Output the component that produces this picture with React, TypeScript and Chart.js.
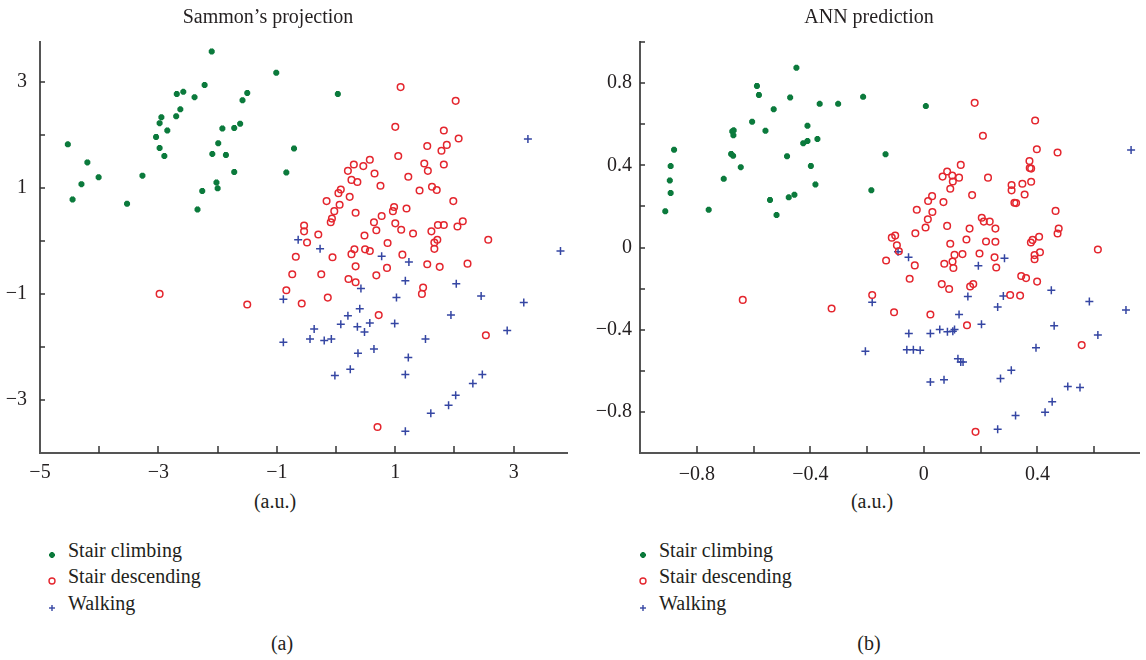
import React, { useEffect, useRef } from "react";
import { Chart, registerables } from "chart.js";

Chart.register(...registerables);

const FONT = '"Liberation Serif", "Times New Roman", serif';
const GREEN = "#0b7a3c";
const RED = "#e4262e";
const BLUE = "#3546a3";
const TEXT = "#231f20";

// ---------- (a) Sammon's projection ----------
const sammonClimbing: [number, number][] = [
  [-4.53, 1.82], [-4.45, 0.78], [-4.30, 1.07], [-4.20, 1.48], [-4.01, 1.20], [-3.53, 0.70],
  [-3.27, 1.23], [-3.04, 1.96], [-2.98, 1.75], [-2.90, 1.60], [-2.98, 2.22], [-2.95, 2.33],
  [-2.85, 2.08], [-2.69, 2.77], [-2.58, 2.81], [-2.63, 2.48], [-2.70, 2.35], [-2.39, 2.71],
  [-2.22, 2.94], [-2.10, 3.57], [-2.34, 0.59], [-2.26, 0.94], [-2.09, 1.64], [-1.99, 1.84],
  [-2.02, 1.10], [-2.00, 0.99], [-1.92, 2.12], [-1.86, 1.62], [-1.72, 2.13], [-1.62, 2.21],
  [-1.58, 2.65], [-1.50, 2.79], [-1.72, 1.30], [-1.01, 3.17], [-0.71, 1.74], [-0.84, 1.29],
  [0.03, 2.77],
];
const sammonDescending: [number, number][] = [
  [1.09, 2.90], [2.02, 2.64], [1.00, 2.15], [1.82, 2.08], [2.07, 1.93], [1.54, 1.79],
  [1.87, 1.81], [1.78, 1.70], [1.05, 1.60], [1.49, 1.46], [1.82, 1.44], [1.55, 1.32],
  [0.57, 1.53], [0.30, 1.44], [0.46, 1.41], [0.20, 1.32], [0.65, 1.27], [1.22, 1.21],
  [0.26, 1.15], [0.36, 1.11], [0.75, 1.04], [1.62, 1.02], [1.70, 0.96], [1.41, 0.95],
  [0.08, 0.97], [0.04, 0.90], [0.23, 0.83], [-0.16, 0.75], [0.06, 0.68], [1.98, 0.75],
  [0.98, 0.64], [0.96, 0.56], [1.19, 0.61], [-0.03, 0.56], [0.33, 0.53], [0.77, 0.47],
  [-0.07, 0.42], [-0.09, 0.35], [0.64, 0.35], [1.00, 0.33], [1.72, 0.30], [1.82, 0.30],
  [2.14, 0.37], [2.05, 0.27], [-0.54, 0.29], [-0.54, 0.18], [-0.30, 0.12], [0.48, 0.10],
  [0.68, 0.20], [1.10, 0.21], [1.30, 0.14], [1.61, 0.18], [2.57, 0.02], [-0.49, -0.03],
  [0.87, -0.04], [1.71, 0.02], [1.66, -0.03], [1.66, -0.15], [-0.68, -0.30], [-0.06, -0.31],
  [0.26, -0.25], [0.31, -0.16], [0.49, -0.16], [0.57, -0.19], [1.12, -0.26], [1.54, -0.44],
  [1.75, -0.49], [2.22, -0.43], [0.33, -0.48], [0.86, -0.51], [-0.74, -0.63], [-0.25, -0.63],
  [0.21, -0.72], [0.33, -0.78], [0.68, -0.65], [-0.84, -0.93], [-0.58, -1.18], [-0.14, -1.07],
  [1.47, -0.88], [1.45, -1.00], [0.72, -1.40], [2.53, -1.78], [0.70, -3.51], [-2.98, -1.00],
  [-1.50, -1.20],
];
const sammonWalking: [number, number][] = [
  [3.24, 1.92], [-0.64, 0.02], [-0.27, -0.15], [0.77, -0.29], [1.23, -0.40], [3.79, -0.19],
  [-0.89, -1.10], [-0.89, -1.91], [1.17, -0.75], [0.42, -0.90], [2.03, -0.81], [1.02, -1.07],
  [2.45, -1.04], [3.17, -1.16], [0.40, -1.28], [0.20, -1.41], [1.94, -1.40], [0.08, -1.57],
  [0.36, -1.62], [0.57, -1.55], [0.99, -1.56], [0.48, -1.72], [-0.37, -1.66], [-0.44, -1.85],
  [-0.20, -1.88], [-0.08, -1.85], [1.51, -1.85], [2.89, -1.69], [0.37, -2.12], [0.64, -2.04],
  [1.22, -2.20], [0.24, -2.42], [-0.02, -2.54], [1.17, -2.52], [2.47, -2.52], [2.31, -2.69],
  [2.02, -2.91], [1.90, -3.10], [1.60, -3.25], [1.17, -3.59],
];

// ---------- (b) ANN prediction ----------
const annClimbing: [number, number][] = [
  [-0.911, 0.176], [-0.880, 0.476], [-0.892, 0.396], [-0.895, 0.326], [-0.892, 0.265],
  [-0.758, 0.184], [-0.705, 0.334], [-0.670, 0.570], [-0.675, 0.565], [-0.671, 0.546],
  [-0.679, 0.455], [-0.672, 0.446], [-0.645, 0.391], [-0.588, 0.786], [-0.581, 0.742],
  [-0.605, 0.612], [-0.558, 0.568], [-0.529, 0.673], [-0.542, 0.231], [-0.519, 0.158],
  [-0.482, 0.444], [-0.471, 0.730], [-0.449, 0.875], [-0.476, 0.244], [-0.456, 0.257],
  [-0.425, 0.507], [-0.410, 0.518], [-0.410, 0.592], [-0.398, 0.397], [-0.375, 0.528],
  [-0.382, 0.307], [-0.367, 0.699], [-0.302, 0.699], [-0.214, 0.733], [-0.185, 0.279],
  [0.007, 0.688], [-0.135, 0.454],
];
const annDescending: [number, number][] = [
  [0.179, 0.704], [0.392, 0.618], [0.208, 0.544], [0.398, 0.478], [0.471, 0.462], [0.372, 0.421],
  [0.373, 0.387], [0.378, 0.384], [0.130, 0.402], [0.082, 0.370], [0.066, 0.345], [0.100, 0.350],
  [0.124, 0.340], [0.102, 0.321], [0.226, 0.340], [0.378, 0.320], [0.347, 0.310], [0.309, 0.304],
  [0.309, 0.278], [0.355, 0.258], [0.093, 0.286], [0.170, 0.255], [0.029, 0.250], [0.015, 0.226],
  [0.069, 0.221], [0.319, 0.218], [0.325, 0.216], [-0.025, 0.184], [0.030, 0.173], [0.464, 0.178],
  [0.014, 0.137], [0.204, 0.145], [0.211, 0.126], [0.232, 0.126], [0.082, 0.105], [0.006, 0.097],
  [0.161, 0.092], [0.252, 0.092], [0.475, 0.092], [0.471, 0.068], [-0.030, 0.069], [-0.101, 0.058],
  [-0.113, 0.048], [-0.095, 0.011], [-0.088, -0.018], [0.150, 0.039], [0.219, 0.029], [0.252, 0.028],
  [0.093, 0.018], [0.406, 0.052], [0.383, 0.037], [0.377, 0.024], [0.613, -0.010], [0.409, -0.023],
  [0.390, -0.037], [0.390, -0.057], [0.108, -0.036], [0.136, -0.032], [0.196, -0.029], [0.249, -0.048],
  [0.101, -0.068], [-0.133, -0.063], [-0.032, -0.087], [0.072, -0.079], [0.104, -0.100], [0.255, -0.097],
  [-0.050, -0.152], [0.063, -0.178], [0.089, -0.202], [0.163, -0.190], [0.174, -0.178], [0.343, -0.139],
  [0.360, -0.149], [0.399, -0.166], [0.304, -0.231], [0.339, -0.234], [-0.182, -0.231], [-0.105, -0.315],
  [0.023, -0.326], [0.152, -0.378], [0.556, -0.475], [0.182, -0.897], [-0.638, -0.255], [-0.325, -0.297],
];
const annWalking: [number, number][] = [
  [0.730, 0.475], [-0.091, -0.021], [-0.054, -0.048], [0.284, -0.052], [0.192, -0.089],
  [-0.182, -0.266], [-0.206, -0.505], [0.155, -0.239], [0.280, -0.236], [0.260, -0.289],
  [0.449, -0.208], [0.583, -0.263], [0.712, -0.304], [0.124, -0.326], [0.203, -0.373],
  [0.459, -0.381], [-0.053, -0.418], [0.023, -0.418], [0.056, -0.399], [0.083, -0.410],
  [0.102, -0.407], [0.108, -0.399], [0.613, -0.426], [0.395, -0.488], [-0.060, -0.497],
  [-0.037, -0.497], [-0.013, -0.500], [0.120, -0.541], [0.130, -0.557], [0.138, -0.557],
  [0.308, -0.597], [0.270, -0.638], [0.023, -0.654], [0.071, -0.643], [0.507, -0.676],
  [0.550, -0.681], [0.452, -0.751], [0.427, -0.802], [0.323, -0.817], [0.260, -0.885],
];

const seriesNames = ["Stair climbing", "Stair descending", "Walking"];

const fmt = (v: number) => {
  const r = Math.round(v * 100) / 100;
  return r < 0 ? "\u2212" + String(Math.abs(r)) : String(r);
};

const insideTicks = {
  id: "insideTicks",
  afterDatasetsDraw(chart: any) {
    const ctx = chart.ctx;
    const { left, bottom } = chart.chartArea;
    ctx.save();
    ctx.strokeStyle = "#333";
    ctx.lineWidth = 1.5;
    const xs = chart.scales.x;
    xs.ticks.forEach((t: any) => {
      const px = Math.round(xs.getPixelForValue(t.value));
      if (Math.abs(px - left) < 2) return;
      ctx.beginPath();
      ctx.moveTo(px, bottom);
      ctx.lineTo(px, bottom - 7);
      ctx.stroke();
    });
    const ys = chart.scales.y;
    ys.ticks.forEach((t: any) => {
      const py = Math.round(ys.getPixelForValue(t.value));
      if (Math.abs(py - bottom) < 2) return;
      ctx.beginPath();
      ctx.moveTo(left, py);
      ctx.lineTo(left + 5, py);
      ctx.stroke();
    });
    ctx.restore();
  },
};

type PanelProps = {
  left: number;
  width: number;
  height: number;
  yAxisWidth: number;
  padRight: number;
  climbing: [number, number][];
  descending: [number, number][];
  walking: [number, number][];
  xMin: number;
  xMax: number;
  xStep: number;
  yMin: number;
  yMax: number;
  yStep: number;
  xShow: (v: number) => boolean;
  yShow: (v: number) => boolean;
  xPad: number;
  yPad: number;
};

function Panel(p: PanelProps) {
  const ref = useRef<HTMLCanvasElement | null>(null);
  useEffect(() => {
    if (!ref.current) return;
    const toPts = (a: [number, number][]) => a.map(([x, y]) => ({ x, y }));
    const tickFont = { family: FONT, size: 20 };
    const chart = new Chart(ref.current, {
      type: "scatter",
      data: {
        datasets: [
          {
            label: seriesNames[0],
            data: toPts(p.climbing),
            pointStyle: "star",
            pointRadius: 3,
            borderWidth: 2.4,
            borderColor: GREEN,
            backgroundColor: GREEN,
          },
          {
            label: seriesNames[1],
            data: toPts(p.descending),
            pointStyle: "circle",
            pointRadius: 3.3,
            borderWidth: 1.5,
            borderColor: RED,
            backgroundColor: "rgba(255,255,255,0)",
          },
          {
            label: seriesNames[2],
            data: toPts(p.walking),
            pointStyle: "cross",
            pointRadius: 4,
            borderWidth: 1.5,
            borderColor: BLUE,
            backgroundColor: BLUE,
          },
        ],
      },
      options: {
        animation: false,
        responsive: false,
        events: [],
        layout: { padding: { top: 42, right: p.padRight, left: 0, bottom: 0 } },
        plugins: { legend: { display: false }, tooltip: { enabled: false }, title: { display: false } },
        scales: {
          x: {
            type: "linear",
            min: p.xMin,
            max: p.xMax,
            afterFit: (s: any) => {
              s.height = p.height - 453;
            },
            grid: { drawOnChartArea: false, drawTicks: false, color: "rgba(0,0,0,0)" },
            border: { display: true, color: "#555", width: 2 },
            ticks: {
              stepSize: p.xStep,
              includeBounds: false,
              autoSkip: false,
              maxRotation: 0,
              padding: p.xPad,
              font: tickFont,
              color: TEXT,
              callback: (v: any) => (p.xShow(Number(v)) ? fmt(Number(v)) : ""),
            },
          },
          y: {
            type: "linear",
            min: p.yMin,
            max: p.yMax,
            afterFit: (s: any) => {
              s.width = p.yAxisWidth;
            },
            grid: { drawOnChartArea: false, drawTicks: false, color: "rgba(0,0,0,0)" },
            border: { display: true, color: "#555", width: 2 },
            ticks: {
              stepSize: p.yStep,
              includeBounds: false,
              autoSkip: false,
              padding: p.yPad,
              font: tickFont,
              color: TEXT,
              callback: (v: any) => (p.yShow(Number(v)) ? fmt(Number(v)) : ""),
            },
          },
        },
      } as any,
      plugins: [insideTicks],
    });
    return () => chart.destroy();
  }, []);
  return (
    <canvas
      ref={ref}
      width={p.width}
      height={p.height}
      style={{ position: "absolute", left: p.left, top: 0, width: p.width, height: p.height }}
    />
  );
}

const textStyle: React.CSSProperties = {
  position: "absolute",
  fontFamily: FONT,
  fontSize: 20,
  lineHeight: "20px",
  color: TEXT,
  whiteSpace: "nowrap",
};

function Centered({ cx, top, children }: { cx: number; top: number; children: React.ReactNode }) {
  return (
    <div style={{ ...textStyle, left: cx - 150, width: 300, top, textAlign: "center" }}>{children}</div>
  );
}

function Marker({ kind }: { kind: number }) {
  if (kind === 0) {
    return (
      <svg width={10} height={10} viewBox="0 0 10 10">
        <g stroke={GREEN} strokeWidth={2}>
          <line x1={5} y1={2} x2={5} y2={8} />
          <line x1={2} y1={5} x2={8} y2={5} />
          <line x1={3} y1={3} x2={7} y2={7} />
          <line x1={7} y1={3} x2={3} y2={7} />
        </g>
      </svg>
    );
  }
  if (kind === 1) {
    return (
      <svg width={10} height={10} viewBox="0 0 10 10">
        <circle cx={5} cy={5} r={3} fill="none" stroke={RED} strokeWidth={1.4} />
      </svg>
    );
  }
  return (
    <svg width={10} height={10} viewBox="0 0 10 10">
      <g stroke={BLUE} strokeWidth={1.4}>
        <line x1={5} y1={2} x2={5} y2={8} />
        <line x1={2} y1={5} x2={8} y2={5} />
      </g>
    </svg>
  );
}

function Legend({ markerX, textX }: { markerX: number; textX: number }) {
  const rows = [557, 583, 610];
  return (
    <>
      {seriesNames.map((name, i) => (
        <React.Fragment key={name}>
          <div style={{ position: "absolute", left: markerX - 5, top: rows[i] - 11 }}>
            <Marker kind={i} />
          </div>
          <div style={{ ...textStyle, left: textX, top: rows[i] - 17 }}>{name}</div>
        </React.Fragment>
      ))}
    </>
  );
}

export default function App() {
  return (
    <div style={{ position: "absolute", left: 0, top: 0, width: 1146, height: 660, background: "#fff", overflow: "hidden" }}>
      <Panel
        left={0}
        width={575}
        height={490}
        yAxisWidth={40}
        padRight={8}
        climbing={sammonClimbing}
        descending={sammonDescending}
        walking={sammonWalking}
        xMin={-5}
        xMax={3.9}
        xStep={1}
        yMin={-4}
        yMax={3.75}
        yStep={1}
        xShow={(v) => Math.abs(Math.round(v)) % 2 === 1}
        yShow={(v) => Math.abs(Math.round(v)) % 2 === 1}
        xPad={8}
        yPad={13}
      />
      <Panel
        left={580}
        width={566}
        height={490}
        yAxisWidth={60}
        padRight={0}
        climbing={annClimbing}
        descending={annDescending}
        walking={annWalking}
        xMin={-1}
        xMax={0.76}
        xStep={0.2}
        yMin={-1}
        yMax={1}
        yStep={0.2}
        xShow={(v) => Math.abs(Math.round(v * 10)) % 4 === 0}
        yShow={(v) => Math.abs(Math.round(v * 10)) % 4 === 0}
        xPad={10}
        yPad={8}
      />
      <Centered cx={268} top={6}>Sammon’s projection</Centered>
      <Centered cx={869} top={6}>ANN prediction</Centered>
      <Centered cx={275} top={491}>(a.u.)</Centered>
      <Centered cx={872} top={491}>(a.u.)</Centered>
      <Legend markerX={52} textX={68} />
      <Legend markerX={643} textX={659} />
      <Centered cx={282} top={633}>(a)</Centered>
      <Centered cx={869} top={633}>(b)</Centered>
    </div>
  );
}
